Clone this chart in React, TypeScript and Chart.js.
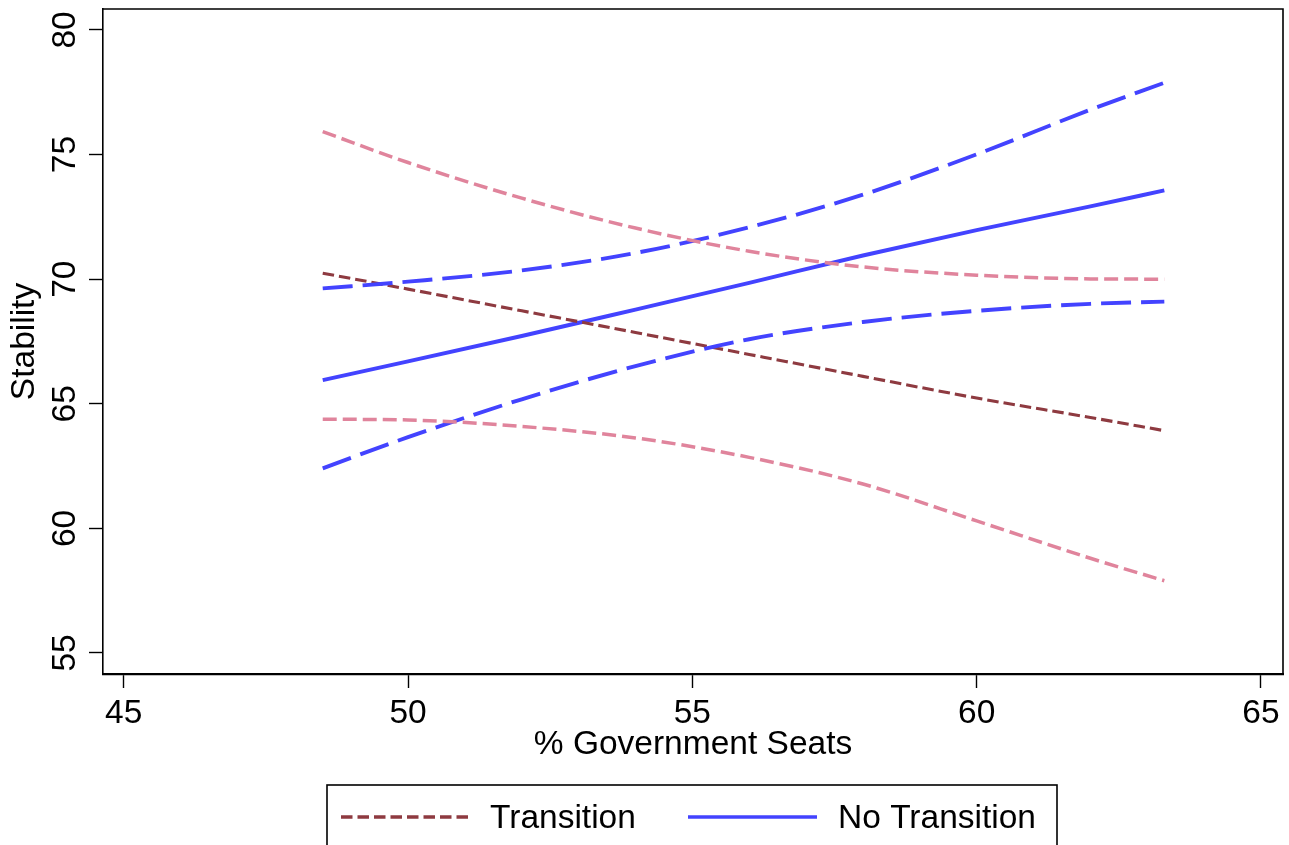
import React, { useEffect, useRef } from "react";
import { Chart, registerables } from "chart.js";

Chart.register(...registerables);

// ---- data ----
const xValues = [48.5, 50, 52, 54, 56, 58, 60, 62, 63.3];
const transition = [70.24, 69.6, 68.73, 67.86, 66.98, 66.1, 65.23, 64.45, 63.92];
const transitionUpper = [75.92, 74.68, 73.25, 72.05, 71.12, 70.49, 70.16, 70.01, 70.0];
const transitionLower = [64.38, 64.35, 64.09, 63.63, 62.85, 61.78, 60.3, 58.8, 57.9];
const noTransition = [65.95, 66.7, 67.72, 68.78, 69.85, 70.95, 71.97, 72.92, 73.56];
const noTransitionUpper = [69.63, 69.9, 70.35, 71.05, 72.08, 73.39, 75.01, 76.8, 77.88];
const noTransitionLower = [62.41, 63.66, 65.18, 66.51, 67.59, 68.28, 68.73, 69.01, 69.1];

const xTicks = [45, 50, 55, 60, 65];
const yTicks = [55, 60, 65, 70, 75, 80];
const yTickLabels = ["55", "60", "65", "70", "75", "80"];
const seriesLabels = ["Transition", "No Transition"];
const xTitle = "% Government Seats";
const yTitle = "Stability";

// ---- styles ----
const FONT = "Arial, 'Liberation Sans', Helvetica, sans-serif";
const FS = 33.5;
const BLUE = "#4343FF";
const PINK = "#E0849C";
const BROWN = "#8E3A40";

const pts = (ys: number[]) => xValues.map((x, i) => ({ x, y: ys[i] }));

const extrasPlugin = {
  id: "stataExtras",
  afterDraw(chart: any) {
    const ctx = chart.ctx as CanvasRenderingContext2D;
    const area = chart.chartArea;
    const yScale = chart.scales.y;
    ctx.save();
    // frame top and right
    ctx.strokeStyle = "#000";
    ctx.lineWidth = 1.6;
    ctx.beginPath();
    ctx.moveTo(area.left, area.top);
    ctx.lineTo(area.right, area.top);
    ctx.lineTo(area.right, area.bottom);
    ctx.stroke();

    // rotated y tick labels
    ctx.fillStyle = "#000";
    ctx.font = `${FS}px ${FONT}`;
    yTicks.forEach((v, i) => {
      const py = yScale.getPixelForValue(v);
      ctx.save();
      ctx.translate(yScale.right - 14 - 14.5, py);
      ctx.rotate(-Math.PI / 2);
      ctx.textAlign = "center";
      ctx.textBaseline = "alphabetic";
      ctx.fillText(yTickLabels[i], 0, 0);
      ctx.restore();
    });

    // legend box
    const boxLeft = 327;
    const boxTop = 785;
    const boxRight = 1057;
    ctx.strokeStyle = "#000";
    ctx.lineWidth = 1.6;
    ctx.strokeRect(boxLeft, boxTop, boxRight - boxLeft, 120);

    const items = seriesLabels.map((lab) =>
      chart.data.datasets.find((d: any) => d.label === lab)
    );
    const lineY = 817;
    const baseY = 828;
    const layout = [
      { x1: 341, x2: 468, tx: 490 },
      { x1: 688, x2: 817, tx: 838 },
    ];
    items.forEach((ds: any, i: number) => {
      const l = layout[i];
      ctx.save();
      ctx.strokeStyle = ds.borderColor;
      ctx.lineWidth = 3.4;
      ctx.setLineDash(ds.borderDash || []);
      ctx.beginPath();
      ctx.moveTo(l.x1, lineY);
      ctx.lineTo(l.x2, lineY);
      ctx.stroke();
      ctx.restore();
      ctx.fillStyle = "#000";
      ctx.font = `${FS}px ${FONT}`;
      ctx.textAlign = "left";
      ctx.textBaseline = "alphabetic";
      ctx.fillText(ds.label, l.tx, baseY);
    });
    ctx.restore();
  },
};

export default function App() {
  const ref = useRef<HTMLCanvasElement | null>(null);

  useEffect(() => {
    if (!ref.current) return;
    const common = {
      pointRadius: 0,
      pointHoverRadius: 0,
      fill: false,
      cubicInterpolationMode: "monotone" as const,
      borderCapStyle: "butt" as const,
    };
    const chart = new Chart(ref.current, {
      type: "line",
      data: {
        datasets: [
          { ...common, label: "Transition upper", data: pts(transitionUpper), borderColor: PINK, borderWidth: 3.5, borderDash: [14, 6] },
          { ...common, label: "Transition lower", data: pts(transitionLower), borderColor: PINK, borderWidth: 3.5, borderDash: [14, 6] },
          { ...common, label: "No Transition upper", data: pts(noTransitionUpper), borderColor: BLUE, borderWidth: 3.9, borderDash: [30, 10] },
          { ...common, label: "No Transition lower", data: pts(noTransitionLower), borderColor: BLUE, borderWidth: 3.9, borderDash: [30, 10] },
          { ...common, label: seriesLabels[0], data: pts(transition), borderColor: BROWN, borderWidth: 3.1, borderDash: [11.5, 5] },
          { ...common, label: seriesLabels[1], data: pts(noTransition), borderColor: BLUE, borderWidth: 3.9 },
        ],
      },
      options: {
        responsive: false,
        animation: false,
        events: [],
        layout: { padding: { top: 9, right: 6, left: 0, bottom: 0 } },
        plugins: { legend: { display: false }, tooltip: { enabled: false } },
        scales: {
          x: {
            type: "linear",
            position: "bottom",
            min: 44.636,
            max: 65.387,
            afterBuildTicks: (s: any) => {
              s.ticks = xTicks.map((v) => ({ value: v }));
            },
            afterFit: (s: any) => {
              s.height = 171;
            },
            grid: { display: true, drawOnChartArea: false, drawTicks: true, tickLength: 14, tickColor: "#000", tickWidth: 1.4 },
            border: { display: true, color: "#000", width: 2.2 },
            ticks: {
              color: "#000",
              font: { family: FONT, size: FS, lineHeight: 1 },
              padding: 9,
              maxRotation: 0,
              minRotation: 0,
              autoSkip: false,
            },
            title: {
              display: true,
              text: xTitle,
              color: "#000",
              font: { family: FONT, size: FS, lineHeight: 1 },
              padding: { top: 0, bottom: 83 },
            },
          },
          y: {
            type: "linear",
            position: "left",
            min: 54.157,
            max: 80.84,
            afterBuildTicks: (s: any) => {
              s.ticks = yTicks.map((v) => ({ value: v }));
            },
            afterFit: (s: any) => {
              s.width = 103;
            },
            grid: { display: true, drawOnChartArea: false, drawTicks: true, tickLength: 14, tickColor: "#000", tickWidth: 1.4 },
            border: { display: true, color: "#000", width: 1.6 },
            ticks: { display: false },
            title: {
              display: true,
              text: yTitle,
              color: "#000",
              font: { family: FONT, size: FS, lineHeight: 1 },
              padding: { top: 8, bottom: 0 },
            },
          },
        },
      },
      plugins: [extrasPlugin],
    });
    return () => chart.destroy();
  }, []);

  return (
    <div style={{ position: "absolute", left: 0, top: 0, width: 1289, height: 845, background: "#fff", overflow: "hidden" }}>
      <canvas ref={ref} width={1289} height={845} style={{ display: "block", width: 1289, height: 845 }} />
    </div>
  );
}
